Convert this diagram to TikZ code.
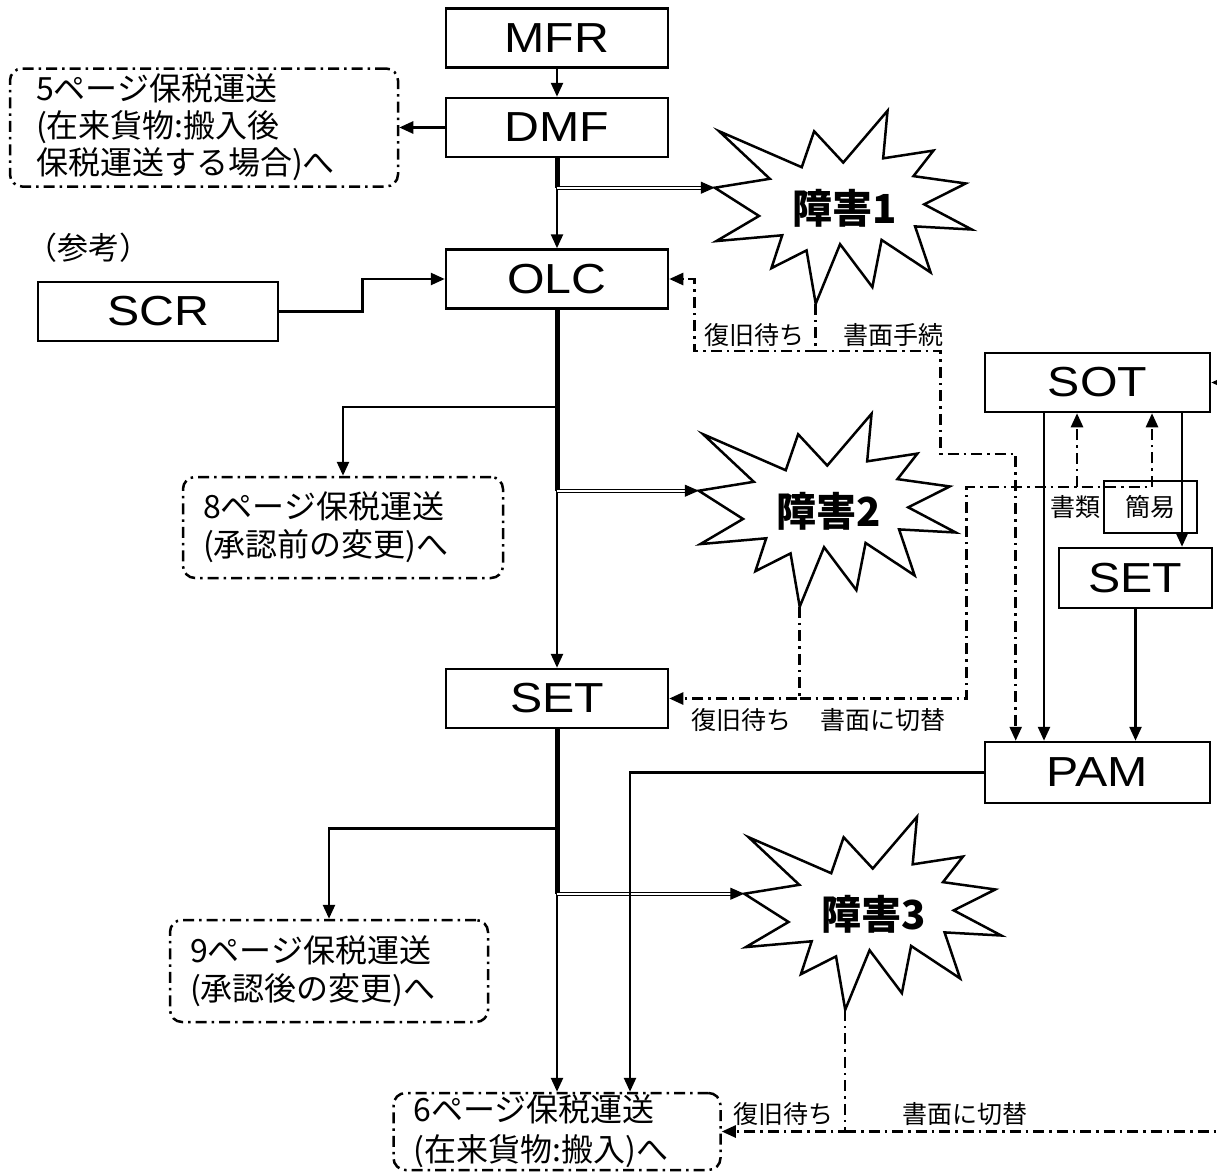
\documentclass[tikz,border=0pt]{standalone}
\usepackage{fontspec}
\setmainfont{Liberation Sans}
\newfontfamily\jp{Noto Sans CJK JP}
\newfontfamily\sysfont{Liberation Sans}[FakeStretch=1.15]
\usetikzlibrary{arrows.meta,positioning,calc}

% outline of an explosion round a burst node
\newcommand{\burst}[1]{%
  \begin{scope}[shift={(#1.north west)},x=257pt,y=-193pt]
    \draw[burstline] (.5,.2685) -- (.6723,0) -- (.6553,.2465) -- (.8509,.2063)
      -- (.7732,.3387) -- (.9767,.3767) -- (.8151,.4850) -- (1,.6153)
      -- (.7795,.5992) -- (.8400,.8377) -- (.6491,.6693) -- (.6133,.9138)
      -- (.4876,.6914) -- (.3928,1) -- (.3572,.7235) -- (.2205,.8156)
      -- (.2624,.6452) -- (.0063,.6753) -- (.1723,.5451) -- (0,.3988)
      -- (.2142,.3526) -- (.0171,.1063) -- (.3385,.2926) -- (.3867,.1063) -- cycle;
    \coordinate (#1-l) at (0,.3988);
    \coordinate (#1-b) at (.3928,1);
  \end{scope}}

\begin{document}
\begin{tikzpicture}[
      x=1pt, y=-1pt,
      every node/.style={on grid},
      sysbox/.style={draw,line width=2.5pt,minimum width=222pt,minimum height=59pt,
        inner sep=0pt,font=\sysfont\fontsize{42}{44}\selectfont},
      refbox/.style={draw,line width=2.5pt,dash pattern=on 11pt off 5pt on 2.5pt off 5pt,
        rounded corners=12pt,align=left,inner xsep=20pt,inner ysep=0pt,
        font=\jp\fontsize{32}{38}\selectfont},
      burstnode/.style={minimum width=257pt,minimum height=193pt,inner sep=0pt,
        font=\jp\bfseries\fontsize{40}{42}\selectfont},
      burstline/.style={line width=2.5pt,line join=miter},
      note/.style={inner sep=2pt,font=\jp\fontsize{25}{28}\selectfont},
      trunk/.style={line width=5pt},
      dbl/.style={double,double distance=2pt,line width=1.2pt},
      fallback/.style={line width=2.5pt,dash pattern=on 11pt off 5pt on 2.5pt off 5pt},
      line width=2.5pt,
      >={Triangle[length=14pt,width=12pt]}
    ]
    \useasboundingbox[fill=white] (0,0) rectangle (1217,1172);

    % main column
    \node[sysbox] (mfr) at (557,38) {MFR};
    \node[sysbox, below=89.5pt of mfr] (dmf) {DMF};
    \node[sysbox, below=151.5pt of dmf] (olc) {OLC};
    \node[sysbox, below=419.5pt of olc] (set) {SET};

    % other pages
    \node[refbox, text width=336pt, inner xsep=26pt, minimum height=118pt, left=353pt of dmf,
      font=\jp\fontsize{32}{37}\selectfont] (p5)
      {5ページ保税運送\\(在来貨物:搬入後\\保税運送する場合)へ};
    \node[refbox, text width=280pt, minimum height=101pt, below left=248.5pt and 214pt of olc] (p8)
      {8ページ保税運送\\(承認前の変更)へ};
    \node[refbox, text width=278pt, minimum height=102pt, below left=272.5pt and 228pt of set] (p9)
      {9ページ保税運送\\(承認後の変更)へ};
    \node[refbox, text width=287pt, minimum height=77pt, below=433pt of set,
      font=\jp\fontsize{32}{40}\selectfont] (p6)
      {6ページ保税運送\\(在来貨物:搬入)へ};

    % reference input
    \node[sysbox, minimum width=240pt, below left=32.5pt and 399pt of olc] (scr) {SCR};
    \node[note, font=\jp\fontsize{31}{33}\selectfont, above left=63.5pt and 70pt of scr] (sankou) {（参考）};

    % right side
    \node[sysbox, minimum width=225pt, minimum height=61pt, below right=74pt and 540.5pt of set] (pam) {PAM};
    \node[sysbox, minimum width=225pt, above=390pt of pam] (sot) {SOT};
    \node[sysbox, minimum width=153pt, minimum height=60pt, below right=195.5pt and 38pt of sot] (setr) {SET};
    \node[draw, minimum width=93pt, minimum height=52pt, note, above right=71pt and 15pt of setr] (kani) {簡易};
    \node[note, left=75.5pt of kani] (shorui) {書類};

    % bursts
    \node[burstnode, below right=81pt and 287.5pt of dmf] (b1) {障害1};
    \node[burstnode, below right=232.5pt and 271.5pt of olc] (b2) {障害2};
    \node[burstnode, below right=216pt and 317pt of set] (b3) {障害3};
    \burst{b1}
    \burst{b2}
    \burst{b3}

    % main flow
    \draw[->] (mfr) -- (dmf);
    \draw[->] (dmf) -- (p5);
    \draw[->] (dmf) -- (olc);
    \draw[trunk] (dmf.south) -- (dmf.south |- b1-l);
    \draw[dbl,->] (dmf.south |- b1-l) -- (b1-l);

    \coordinate (scrbend) at ($(scr.east)+(83,0)$);
    \draw[->] (scr) -- (scrbend) |- (olc);

    \draw[->] (olc) -- (set);
    \draw[trunk] (olc.south) -- (olc.south |- b2-l);
    \coordinate (fork1) at ($(olc.south)+(0,97)$);
    \draw[->] (fork1) -| (p8);
    \draw[dbl,->] (olc.south |- b2-l) -- (b2-l);

    \draw[->] (set) -- (p6);
    \draw[trunk] (set.south) -- (set.south |- b3-l);
    \coordinate (fork2) at ($(set.south)+(0,99)$);
    \draw[->] (fork2) -| (p9);
    \draw[dbl,->] (set.south |- b3-l) -- (b3-l);

    % SOT, SET and PAM
    \draw[->] ([xshift=-53.5pt]sot.south) -- ([xshift=-53.5pt]pam.north);
    \draw[->] ([xshift=84.5pt]sot.south) -- ([xshift=84.5pt]sot.south |- setr.north);
    \draw[->] (setr) -- (setr |- pam.north);
    \draw[->] (pam) -| ([xshift=73pt]p6.north);
    \coordinate (sotin) at ($(sot.east)+(25,0)$);
    \draw[->] (sotin) -- (sot);

    % fallback after burst 1
    \coordinate (j1) at ($(b1-b)+(0,47)$);
    \coordinate (c1) at ($(olc.east |- j1)+(25,0)$);
    \coordinate (c2) at ($(j1)+(125,0)$);
    \coordinate (c3) at ($(c2)+(75,103)$);
    \draw[fallback,->] (b1-b) -- (j1) -- node[note,above=1pt] (w1) {復旧待ち} (c1) |- (olc);
    \draw[fallback,->] (j1) -- node[note,above=1pt,pos=.62] (m1) {書面手続} (c2) |- (c3) -- (c3 |- pam.north);

    % fallback after burst 2
    \coordinate (j2) at (b2-b |- set.east);
    \coordinate (c4) at ($(j2)+(167,0)$);
    \coordinate (c5) at ($(c4)+(0,-211.5)$);
    \coordinate (c6) at ([xshift=54.5pt]sot.south |- c5);
    \coordinate (c7) at ([xshift=-20.5pt]sot.south |- c5);
    \draw[fallback,->] (b2-b) -- (j2) -- node[note,below=7pt,pos=.45] (w2) {復旧待ち} (set);
    \draw[fallback,->] (j2) -- node[note,below=7pt] (m2) {書面に切替} (c4) -- (c5) -- (c6) -- ([xshift=54.5pt]sot.south);
    \draw[fallback,->] (c7) -- ([xshift=-20.5pt]sot.south);

    % fallback after burst 3
    \coordinate (j3) at (b3-b |- p6.east);
    \coordinate (rim) at ($(j3)+(400,0)$);
    \draw[fallback,->] (b3-b) -- (j3) -- node[note,above=3pt] (w3) {復旧待ち} (p6);
    \draw[fallback] (j3) -- node[note,above=3pt,pos=.3] (m3) {書面に切替} (rim);
    \end{tikzpicture}
\end{document}
